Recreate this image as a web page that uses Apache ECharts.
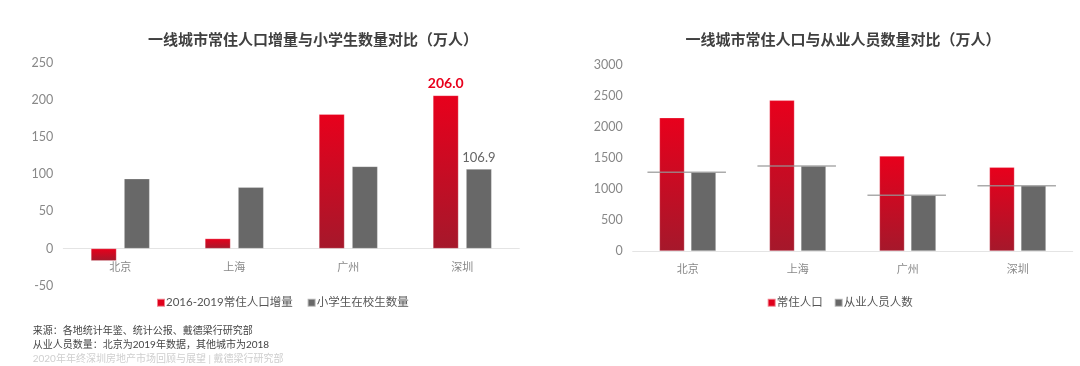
<!DOCTYPE html>
<html><head><meta charset="utf-8">
<script src="https://cdn.jsdelivr.net/npm/echarts@6/dist/echarts.min.js"></script>
<style>html,body{margin:0;padding:0;background:#fff}#c{width:1080px;height:366px}</style>
</head><body><div id="c"></div>
<script>
const cities = ['北京', '上海', '广州', '深圳'];
const popIncrease = [-16.5, 13.4, 180.7, 206.0];
const pupils = [93.9, 82.4, 110.5, 106.9];
const residentPop = [2150, 2430, 1532, 1350];
const employed = [1271, 1371, 898, 1053];
const leftTicks = [-50, 0, 50, 100, 150, 200, 250];
const rightTicks = [0, 500, 1000, 1500, 2000, 2500, 3000];

const FONT = "Lato, 'Noto Sans CJK SC', sans-serif";
const redGrad = new echarts.graphic.LinearGradient(0, 0, 0, 1, [
  { offset: 0, color: '#e8001c' },
  { offset: 1, color: '#a5182b' }
]);
const GRAY = '#686868';

const LEFT_TOP = 62.7, LEFT_H = 223;
// distance from the grid bottom (-50) up to the zero line, in pixels
const leftZeroOffset = -LEFT_H * (0 - leftTicks[0]) / (leftTicks[leftTicks.length - 1] - leftTicks[0]);

const chart = echarts.init(document.getElementById('c'), null, { renderer: 'canvas' });
const catAxis = (gi, offset) => ({
  type: 'category', gridIndex: gi, data: cities, position: 'bottom', offset: offset,
  axisLine: { show: true, onZero: false, lineStyle: { color: '#e4e4e4', width: 1 } },
  axisTick: { show: false },
  axisLabel: { margin: 13, color: '#888', fontSize: 11, fontFamily: FONT }
});
const valAxis = (gi, ticks) => ({
  type: 'value', gridIndex: gi,
  min: ticks[0], max: ticks[ticks.length - 1], interval: ticks[1] - ticks[0],
  axisLine: { show: false }, axisTick: { show: false },
  splitLine: { show: false },
  axisLabel: { margin: 10, formatter: (v) => String(v), color: '#888', fontSize: 12.5, fontFamily: FONT }
});
const barBorder = { borderColor: 'rgba(255,255,255,0.5)', borderWidth: 0.5 };

chart.setOption({
  backgroundColor: '#fff',
  animation: false,
  textStyle: { fontFamily: FONT },
  title: [
    { text: '一线城市常住人口增量与小学生数量对比（万人）', left: 308, top: 28, textAlign: 'center',
      textStyle: { fontSize: 15, fontWeight: 'bold', color: '#404040', fontFamily: FONT } },
    { text: '一线城市常住人口与从业人员数量对比（万人）', left: 838, top: 28, textAlign: 'center',
      textStyle: { fontSize: 15, fontWeight: 'bold', color: '#404040', fontFamily: FONT } }
  ],
  legend: [
    { left: 151, top: 292, itemWidth: 8, itemHeight: 8, itemGap: 14, icon: 'rect',
      textStyle: { fontSize: 11.5, color: '#555', fontFamily: FONT, padding: [0, 0, 0, -4] },
      data: [{ name: '2016-2019常住人口增量', itemStyle: { color: '#e0001b' } },
             { name: '小学生在校生数量', itemStyle: { color: GRAY } }] },
    { left: 761.7, top: 292, itemWidth: 8, itemHeight: 8, itemGap: 11, icon: 'rect',
      textStyle: { fontSize: 11.5, color: '#555', fontFamily: FONT, padding: [0, 0, 0, -4] },
      data: [{ name: '常住人口', itemStyle: { color: '#e0001b' } },
             { name: '从业人员人数', itemStyle: { color: GRAY } }] }
  ],
  grid: [
    { left: 63.3, width: 456, top: LEFT_TOP, height: LEFT_H },
    { left: 632.7, width: 440, top: 65, height: 186 }
  ],
  xAxis: [catAxis(0, leftZeroOffset), catAxis(1, 0)],
  yAxis: [valAxis(0, leftTicks), valAxis(1, rightTicks)],
  series: [
    { name: '2016-2019常住人口增量', type: 'bar', xAxisIndex: 0, yAxisIndex: 0,
      barWidth: 25.5, barGap: '30%',
      itemStyle: Object.assign({ color: redGrad }, barBorder),
      data: popIncrease.map((v, i) => i === 3 ? {
        value: v,
        label: { show: true, position: 'top', distance: 5, formatter: (p) => p.value.toFixed(1),
          color: '#e8001c', fontWeight: 'bold', fontSize: 14, fontFamily: FONT }
      } : v) },
    { name: '小学生在校生数量', type: 'bar', xAxisIndex: 0, yAxisIndex: 0,
      barWidth: 25.5, barGap: '30%',
      itemStyle: Object.assign({ color: GRAY }, barBorder),
      data: pupils.map((v, i) => i === 3 ? {
        value: v,
        label: { show: true, position: 'top', distance: 5, formatter: (p) => p.value.toFixed(1),
          color: '#666', fontSize: 13, fontFamily: FONT }
      } : v) },
    { name: '常住人口', type: 'bar', xAxisIndex: 1, yAxisIndex: 1,
      barWidth: 25, barGap: '26%',
      itemStyle: Object.assign({ color: redGrad }, barBorder),
      data: residentPop },
    { name: '从业人员人数', type: 'bar', xAxisIndex: 1, yAxisIndex: 1,
      barWidth: 25, barGap: '26%',
      itemStyle: Object.assign({ color: GRAY }, barBorder),
      data: employed },
    { name: '从业人员线', type: 'scatter', xAxisIndex: 1, yAxisIndex: 1,
      symbol: 'rect', symbolSize: [78.5, 1.6], symbolOffset: [-1, 0], z: 5,
      itemStyle: { color: '#969696' }, silent: true,
      data: employed }
  ],
  graphic: [
    { type: 'text', x: 32.7, y: 331, style: { text: '来源：各地统计年鉴、统计公报、戴德梁行研究部', fontSize: 10, fill: '#444', fontFamily: FONT, verticalAlign: 'middle' } },
    { type: 'text', x: 32.7, y: 345, style: { text: '从业人员数量：北京为2019年数据，其他城市为2018', fontSize: 10, fill: '#444', fontFamily: FONT, verticalAlign: 'middle' } },
    { type: 'text', x: 32.7, y: 358.5, style: { text: '2020年年终深圳房地产市场回顾与展望 | 戴德梁行研究部', fontSize: 10, fill: '#cfcfcf', fontFamily: FONT, verticalAlign: 'middle' } }
  ]
});
</script></body></html>
